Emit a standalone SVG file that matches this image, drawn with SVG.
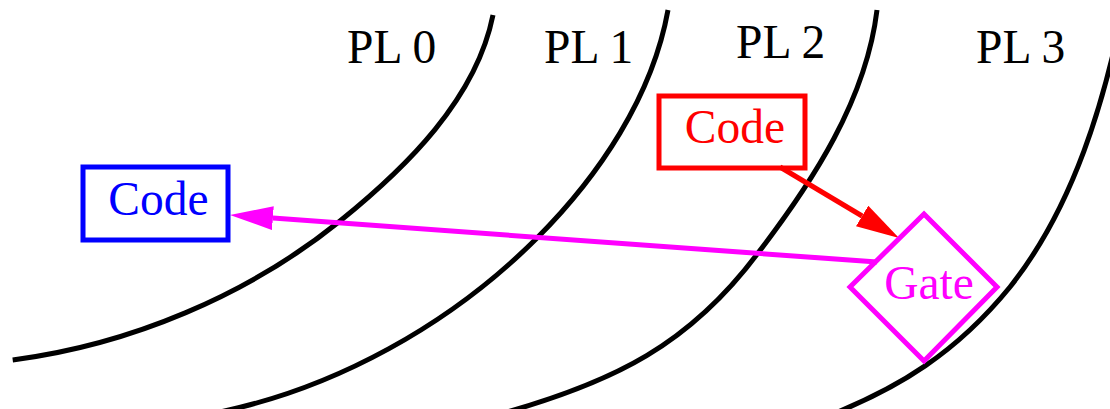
<svg xmlns="http://www.w3.org/2000/svg" width="1110" height="409" viewBox="0 0 1110 409">
<style>
  .ring { fill: none; stroke: #000; stroke-width: 5; }
  .lbl { font-family: "Liberation Serif", "Times New Roman", serif; font-size: 47.5px; }
  .pl { fill: #000; }
  .box { fill: none; stroke-width: 5; }
  .edge { fill: none; stroke-width: 5; }
</style>
<defs>
  <marker id="ahRed" viewBox="0 0 43 24" markerWidth="43" markerHeight="24" markerUnits="userSpaceOnUse" refX="0" refY="12" orient="auto">
    <path d="M0,0 L43,12 L0,24 z" fill="#ff0000"/>
  </marker>
  <marker id="ahMag" viewBox="0 0 43 24" markerWidth="43" markerHeight="24" markerUnits="userSpaceOnUse" refX="0" refY="12" orient="auto">
    <path d="M0,0 L43,12 L0,24 z" fill="#ff00ff"/>
  </marker>
</defs>
<rect width="1110" height="409" fill="#fff"/>
<g id="rings">
  <path class="ring" d="M12.7,360 C130.2,344.7 247.8,295.4 340,221 C406.5,167.3 476.2,98.9 493,15"/>
  <path class="ring" d="M215,413 C334.9,389 450.6,324.4 537,238 C599,176 652.5,96.3 668,10"/>
  <path class="ring" d="M500,414 C615,382 690,344 758,253 C812.9,181.6 866.3,99.4 877,10"/>
  <path class="ring" d="M823,418 C900,388 957,352 1010,287 C1074,206.4 1104.8,101 1125,0"/>
</g>
<g id="labels">
  <text class="lbl pl" x="347" y="63">PL 0</text>
  <text class="lbl pl" x="544" y="63">PL 1</text>
  <text class="lbl pl" x="736" y="58">PL 2</text>
  <text class="lbl pl" x="976" y="63">PL 3</text>
</g>
<g id="connectors">
  <line class="edge" stroke="#ff0000" x1="780" y1="167" x2="862.1" y2="216" marker-end="url(#ahRed)"/>
  <line class="edge" stroke="#ff00ff" x1="877" y1="262" x2="272.9" y2="218.1" marker-end="url(#ahMag)"/>
</g>
<g id="code-pl0">
  <rect class="box" stroke="#0000ff" x="83" y="167" width="145" height="73"/>
  <text class="lbl" fill="#0000ff" x="158.5" y="215" text-anchor="middle">Code</text>
</g>
<g id="code-pl2">
  <rect class="box" stroke="#ff0000" x="659" y="96" width="146" height="72"/>
  <text class="lbl" fill="#ff0000" x="735" y="143" text-anchor="middle">Code</text>
</g>
<g id="gate">
  <polygon class="box" stroke="#ff00ff" points="924,214 997,287 924,361 850,287"/>
  <text class="lbl" fill="#ff00ff" x="929" y="299" text-anchor="middle">Gate</text>
</g>
</svg>
